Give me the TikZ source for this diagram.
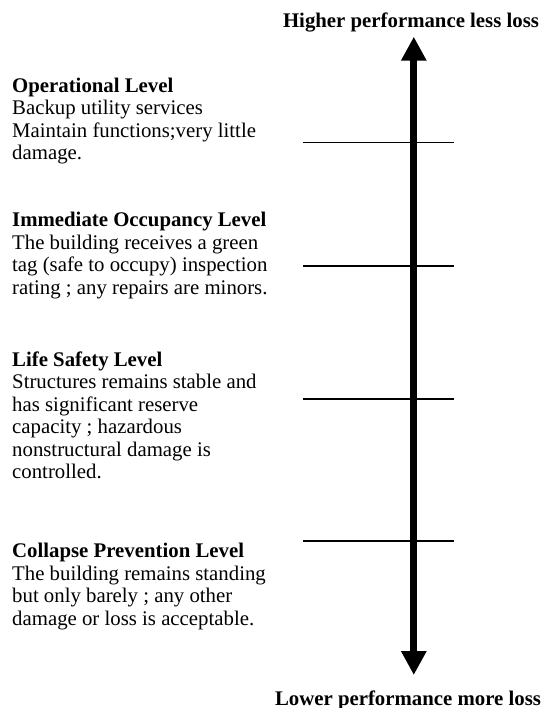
\documentclass[tikz,border=0pt]{standalone}
\usepackage{fontspec}
\setmainfont{Liberation Serif}
\usetikzlibrary{arrows.meta}
\newcommand{\levelblock}[2]{%
  \begin{tabular}[t]{@{}l@{}}\textbf{#1}\\#2\end{tabular}}
\tikzset{
  body/.style={anchor=base west, inner sep=0pt,
    font=\fontsize{20.8}{22.5}\selectfont},
  endlabel/.style={anchor=base, inner sep=0pt,
    font=\fontsize{20.8}{22.5}\selectfont\bfseries},
  axisline/.style={line width=7pt,
    {Triangle[length=24pt,width=24pt]}-{Triangle[length=24pt,width=24pt]}},
  tick/.style={line width=1.3pt},
}
\begin{document}
\begin{tikzpicture}[x=1pt,y=-1pt]
  \useasboundingbox (0,0) rectangle (541,708);

  % performance axis
  \coordinate (axlo) at (413.8,675);
  \coordinate (axhi) at (413.8,36.7);
  \draw[axisline] (axlo) -- (axhi);

  \node[endlabel] (hi) at (411,28) {Higher performance less loss};
  \node[endlabel] (lo) at (408,705) {Lower performance more loss};

  % level markers
  \foreach \n/\y in {1/142.3, 2/266, 3/399, 4/541} {
    \coordinate (t\n a) at (303,\y);
    \coordinate (t\n b) at (454,\y);
    \draw[tick] (t\n a) -- (t\n b);
  }

  % level descriptions (anchored at the baseline of the heading)
  \node[body] (op) at (12,92.5) {\levelblock{Operational Level}{%
    Backup utility services\\
    Maintain functions;very little\\
    damage.}};
  \node[body] (io) at (12,226.8) {\levelblock{Immediate Occupancy Level}{%
    The building receives a green\\
    tag (safe to occupy) inspection\\
    rating ; any repairs are minors.}};
  \node[body] (ls) at (12,366) {\levelblock{Life Safety Level}{%
    Structures remains stable and\\
    has significant reserve\\
    capacity ; hazardous\\
    nonstructural damage is\\
    controlled.}};
  \node[body] (cp) at (12,557.5) {\levelblock{Collapse Prevention Level}{%
    The building remains standing\\
    but only barely ; any other\\
    damage or loss is acceptable.}};
\end{tikzpicture}
\end{document}
